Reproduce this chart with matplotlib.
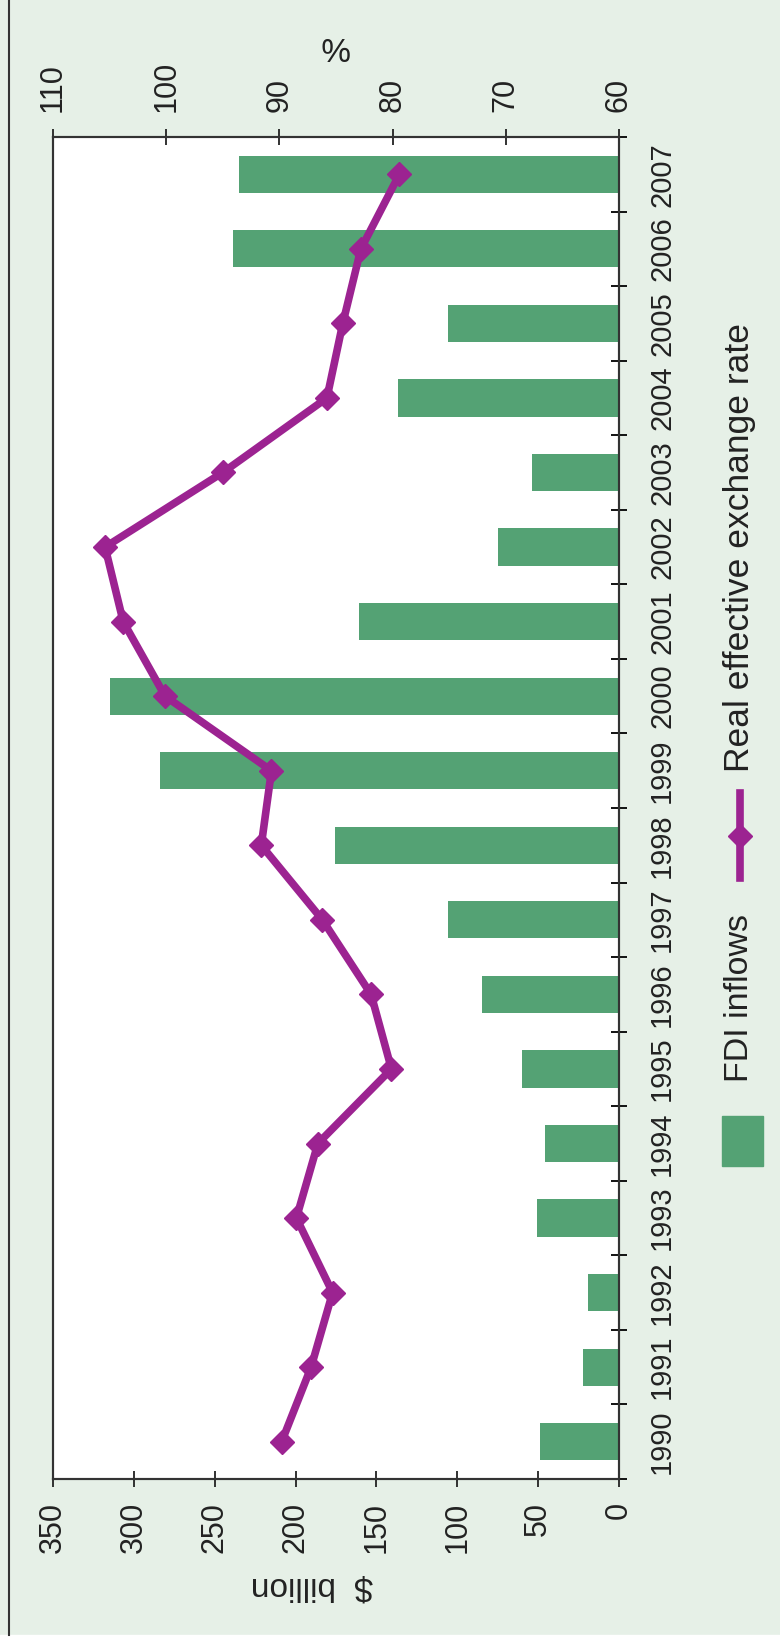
import numpy as np
import matplotlib.pyplot as plt
from matplotlib.patches import Rectangle
from matplotlib.lines import Line2D

plt.rcParams['font.family'] = ['Liberation Sans', 'DejaVu Sans']

# data
years = [str(y) for y in range(1990, 2008)]
fdi_inflows = [49, 22.5, 19, 50.5, 46, 60, 85, 106, 175.6, 284, 315, 160.6,
               75, 54, 136.5, 106, 238.5, 235]                      # $ billion
reer = [89.8, 87.2, 85.3, 88.5, 86.6, 80.1, 81.9, 86.2, 91.6, 90.7, 100.1,
        103.8, 105.4, 95.0, 85.8, 84.4, 82.8, 79.4]                  # %
usd_ticks = list(range(0, 351, 50))
pct_ticks = list(range(60, 111, 10))

BG = '#e6f0e7'
GREEN = '#54a274'
PURPLE = '#9c2391'
INK = '#222222'
W, H = 780, 1645


def px(x, y):
    """pixel position (from top-left) -> figure fraction"""
    return x / W, 1 - y / H


fig = plt.figure(figsize=(W / 100, H / 100), dpi=100, facecolor=BG)

# chart drawn turned on its side: years run up the right edge
x0, y0 = px(53, 1479)
x1, y1 = px(619, 137)
ax = fig.add_axes([x0, y0, x1 - x0, y1 - y0])
ax.set_facecolor('white')

pos = np.arange(len(years))
ax.barh(pos, fdi_inflows, height=0.5, color=GREEN, zorder=2)
ax.set_xlim(350, 0)
ax.set_ylim(-0.5, len(years) - 0.5)

ax2 = ax.twiny()
ax2.plot(reer, pos, color=PURPLE, lw=5.5, marker='D', ms=12.5,
         solid_joinstyle='round', zorder=3)
ax2.set_xlim(110, 60)

for a in (ax, ax2):
    for s in a.spines.values():
        s.set_color('#333333')
        s.set_linewidth(1.5)

# $ billion axis along the bottom
ax.set_xticks(usd_ticks)
ax.tick_params(axis='x', direction='inout', length=11, width=1.3,
               pad=11, labelsize=22, labelrotation=90, colors=INK)
ax.set_xlabel('$  billion', fontsize=24, rotation=180, color=INK,
              va='center', ha='center')
ax.xaxis.set_label_coords((312 - 53) / 566, -(1586 - 1479) / 1342)

# % axis along the top
ax2.set_xticks(pct_ticks)
ax2.tick_params(axis='x', direction='inout', length=11, width=1.3,
                pad=12.5, labelsize=22, labelrotation=90, colors=INK)
ax2.set_xlabel('%', fontsize=24, rotation=180, color=INK,
               va='center', ha='center')
ax2.xaxis.set_label_coords((334 - 53) / 566, (1479 - 46) / 1342)

# years on the right, ticks between categories
ax.yaxis.tick_right()
ax.set_yticks(np.arange(-0.5, len(years), 1.0))
ax.set_yticklabels([])
ax.set_yticks(pos, labels=years, minor=True)
ax.tick_params(axis='y', which='major', direction='inout', length=12,
               width=1.3, right=True, left=False)
ax.tick_params(axis='y', which='minor', length=0, right=True, left=False,
               labelright=True, labelleft=False, pad=21, labelsize=21,
               labelrotation=90, colors=INK)
for lbl in ax.get_yticklabels(minor=True):
    lbl.set_va('center')

# legend, turned with the chart
fig.patches.append(Rectangle(px(722, 1166), 41 / W, 50 / H,
                             transform=fig.transFigure, color=GREEN))
fig.text(*px(740, 1082), 'FDI inflows', rotation=90, ha='center',
         va='bottom', fontsize=24.5, color=INK)
fig.add_artist(Line2D(*zip(px(740, 793), px(740, 878)), color=PURPLE,
                      lw=5.5, transform=fig.transFigure))
fig.add_artist(Line2D(*zip(px(740, 836)), color=PURPLE, marker='D', ms=12,
                      lw=0, transform=fig.transFigure))
fig.text(*px(740, 772), 'Real effective exchange rate', rotation=90,
         ha='center', va='bottom', fontsize=25.5, color=INK)

# frame
fig.patches.append(Rectangle((0, 0), 1, 10 / H, transform=fig.transFigure,
                             color='white'))
fig.add_artist(Line2D([9 / W, 9 / W], [10 / H, 1], color='#333333', lw=1.5,
                      transform=fig.transFigure))

fig.savefig('out.png', dpi=100, facecolor=fig.get_facecolor())
